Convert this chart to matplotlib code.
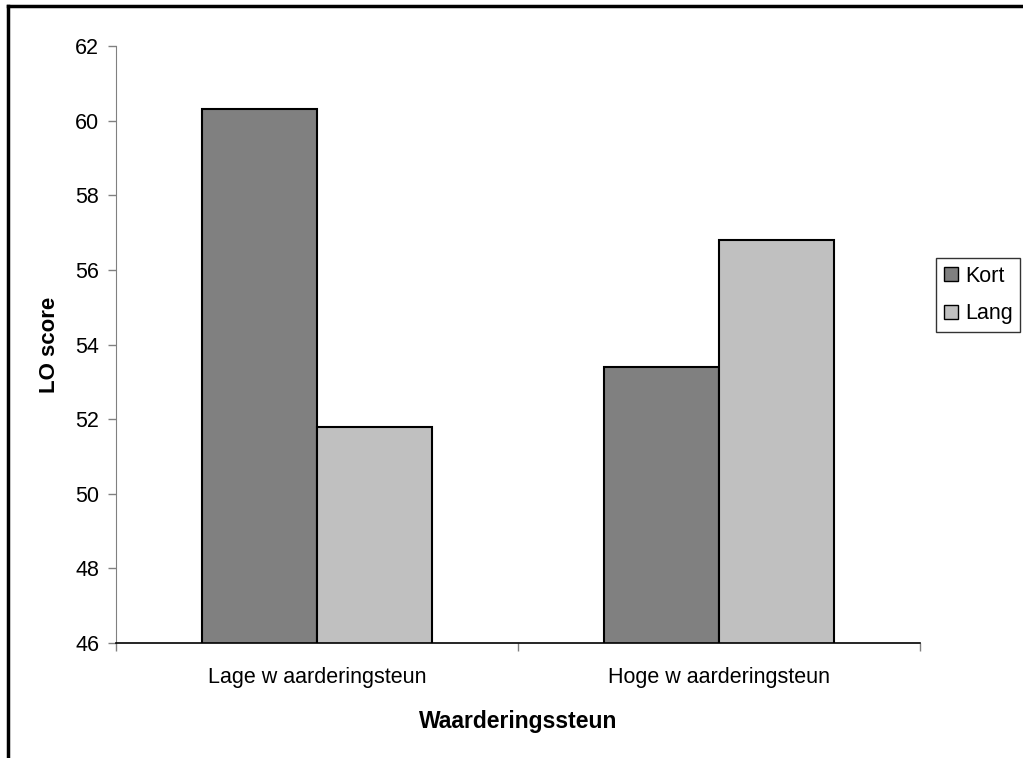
import numpy as np
import matplotlib
matplotlib.use('Agg')
import matplotlib.pyplot as plt
from matplotlib.lines import Line2D

categories = ['Lage w aarderingsteun', 'Hoge w aarderingsteun']
series_names = ['Kort', 'Lang']
kort = [60.3, 53.4]
lang = [51.8, 56.8]
colors = ['#808080', '#c0c0c0']

plt.rcParams['font.family'] = ['Liberation Sans', 'DejaVu Sans']

W, H = 1023, 758
fig = plt.figure(figsize=(W / 100, H / 100), dpi=100)
ax = fig.add_axes([116 / W, (H - 643) / H, 804 / W, (643 - 46) / H])

x = np.arange(len(categories))
bw = 0.286
ax.bar(x - bw / 2, kort, bw, color=colors[0], edgecolor='black', linewidth=1.5, label=series_names[0])
ax.bar(x + bw / 2, lang, bw, color=colors[1], edgecolor='black', linewidth=1.5, label=series_names[1])

ax.set_xlim(-0.5, 1.5)
ax.set_ylim(46, 62)
ax.set_yticks(np.arange(46, 63, 2))
ax.tick_params(axis='y', labelsize=15.5, length=6, width=1, color='#808080', pad=6)
ax.set_xticks(x)
ax.set_xticklabels(categories)
ax.tick_params(axis='x', length=0, labelsize=15.5, pad=17)
ax.set_xticks([-0.5, 0.5, 1.5], minor=True)
ax.tick_params(axis='x', which='minor', length=6, width=1, color='#808080')

for s in ['top', 'right']:
    ax.spines[s].set_visible(False)
ax.spines['left'].set_color('#808080')
ax.spines['bottom'].set_color('black')
ax.spines['bottom'].set_linewidth(1.2)

ax.set_ylabel('LO score', fontsize=16, fontweight='bold', labelpad=11)
ax.set_xlabel('Waarderingssteun', fontsize=16.5, fontweight='bold', labelpad=16)

handles = [Line2D([], [], marker='s', linestyle='none', markersize=10,
                  markerfacecolor=c, markeredgecolor='black') for c in colors]
fig.legend(handles, series_names, loc='center', bbox_to_anchor=(978 / W, 1 - 295 / H),
           fontsize=15.5, frameon=True, fancybox=False, edgecolor='black',
           handlelength=0.7, handletextpad=0.3, labelspacing=0.75, borderpad=0.35)

# outer chart-area border (left and top edges visible)
fig.add_artist(Line2D([7.5 / W, 7.5 / W], [0, 1 - 5.5 / H], color='black', linewidth=2.5))
fig.add_artist(Line2D([7.5 / W, 1], [1 - 5.5 / H, 1 - 5.5 / H], color='black', linewidth=2.5))

fig.savefig('out.png', dpi=100)
